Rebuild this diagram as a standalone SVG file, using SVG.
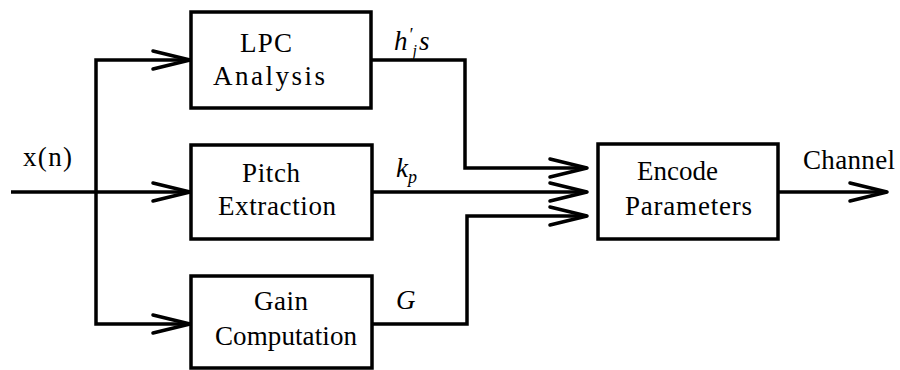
<svg xmlns="http://www.w3.org/2000/svg" width="900" height="370" viewBox="0 0 900 370">
<style>
.box{fill:#fff;stroke:#000;stroke-width:3.5}
.wire{fill:none;stroke:#000;stroke-width:3.5;stroke-linejoin:miter}
.arr{marker-end:url(#chev)}
.t{font-family:"Liberation Serif","Times New Roman",serif;font-size:27px;fill:#000}
.m{font-family:"Liberation Serif","Times New Roman",serif;font-style:italic;fill:#000}
</style>
<defs>
<marker id="chev" markerUnits="userSpaceOnUse" markerWidth="44" markerHeight="26" refX="38" refY="13" orient="auto" overflow="visible">
<path d="M1,4 L38,13 L1,22" fill="none" stroke="#000" stroke-width="3.5" stroke-linejoin="round" stroke-linecap="round"/>
</marker>
</defs>
<rect width="900" height="370" fill="#fff"/>
<g id="connectors">
<path class="wire arr" d="M11,192 H190"/>
<path class="wire arr" d="M96,192 V60 H190"/>
<path class="wire arr" d="M96,192 V324 H190"/>
<path class="wire arr" d="M372,60 H465 V168 H587"/>
<path class="wire arr" d="M372,192 H587"/>
<path class="wire arr" d="M372,324 H467 V216 H587"/>
<path class="wire arr" d="M778,192 H887"/>
</g>
<g id="lpc">
<rect class="box" x="191" y="12" width="180" height="96"/>
<text class="t" x="240" y="52" textLength="52">LPC</text>
<text class="t" x="213" y="85" textLength="112">Analysis</text>
</g>
<g id="pitch">
<rect class="box" x="191" y="145" width="181" height="94"/>
<text class="t" x="242" y="182" textLength="58">Pitch</text>
<text class="t" x="218" y="215" textLength="118">Extraction</text>
</g>
<g id="gain">
<rect class="box" x="191" y="276" width="181" height="92"/>
<text class="t" x="254" y="310" textLength="54">Gain</text>
<text class="t" x="215" y="345" textLength="142">Computation</text>
</g>
<g id="encode">
<rect class="box" x="598" y="144" width="180" height="95"/>
<text class="t" x="637" y="180" textLength="81">Encode</text>
<text class="t" x="625" y="215" textLength="127">Parameters</text>
</g>
<g id="labels">
<text class="t" x="23" y="166" textLength="49">x(n)</text>
<text class="t" x="803" y="169" textLength="92">Channel</text>
<text class="m" x="394" y="50" font-size="27">h<tspan font-size="18" dx="1" dy="-9">′</tspan><tspan font-size="16" dy="15">j</tspan><tspan font-size="27" dx="2" dy="-6">s</tspan></text>
<text class="m" x="396" y="177" font-size="27">k<tspan font-size="18" dy="6">p</tspan></text>
<text class="m" x="396" y="309" font-size="27">G</text>
</g>
</svg>
